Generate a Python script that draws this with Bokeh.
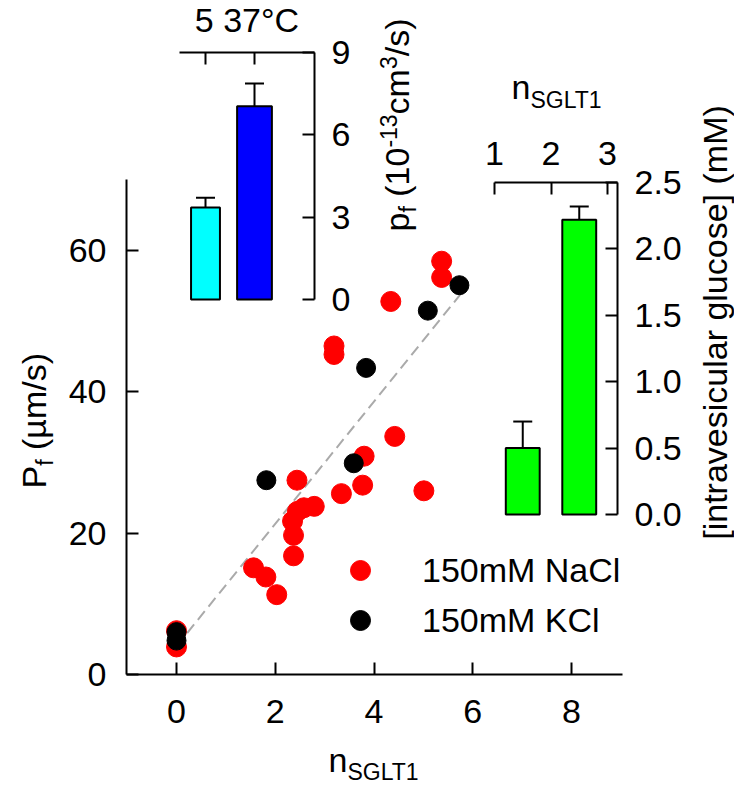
from math import pi
from bokeh.plotting import figure
from bokeh.models import (Range1d, LinearAxis, FixedTicker, Label, Legend, LegendItem,
                          ColumnDataSource, Whisker, TeeHead, PrintfTickFormatter)
from bokeh.embed import file_html
from bokeh.resources import INLINE

FONT = "Liberation Sans"
FS = "34px"

# ---------------- data ----------------
nacl_n = [5.37, 5.37, 4.34, 3.19, 3.19, 4.42, 3.80, 2.44, 3.34, 3.77, 5.01, 2.79,
          2.58, 2.45, 2.35, 2.37, 2.37, 1.56, 1.81, 2.03, 0.0, 0.0]
nacl_pf = [58.5, 56.2, 52.8, 46.5, 45.3, 33.7, 30.9, 27.5, 25.6, 26.8, 26.0, 23.8,
           23.6, 23.1, 21.7, 19.7, 16.8, 15.1, 13.8, 11.3, 3.9, 6.2]
kcl_n = [5.73, 5.09, 3.84, 1.82, 3.59, 0.0, 0.0]
kcl_pf = [55.1, 51.5, 43.4, 27.5, 29.9, 6.0, 4.8]
fit_n = [0.0, 5.75]
fit_pf = [4.0, 53.8]
main_xticks = [0, 2, 4, 6, 8]
main_yticks = [0, 20, 40, 60]

temp_pos = [1, 2]
temp_pf = [3.35, 7.04]
temp_err_top = [3.71, 7.87]
temp_width = [0.59, 0.71]
temp_colors = ["#00ffff", "#0000ff"]
temp_label = "5 37°C"
temp_yticks = [0, 3, 6, 9]

sglt_pos = [1.5, 2.5]
glucose = [0.50, 2.22]
glucose_err_top = [0.70, 2.32]
sglt_ticks = [1, 2, 3]
glc_ticks = [0.0, 0.5, 1.0, 1.5, 2.0, 2.5]

# ---------------- layout helpers ----------------
W, H = 734, 785


def xrange_from(px0, v0, ppu):
    return Range1d(v0 - px0 / ppu, v0 + (W - px0) / ppu)


def yrange_from(py0, v0, ppu):
    return Range1d(v0 - (H - py0) / ppu, v0 + py0 / ppu)


p = figure(width=W, height=H,
           x_range=xrange_from(176, 0, 49.375), y_range=yrange_from(674, 0, 7.065),
           output_backend="svg", toolbar_location=None, title=None,
           min_border_left=0, min_border_right=0, min_border_top=0, min_border_bottom=0)
p.extra_x_ranges = {"in1": xrange_from(205, 1, 49.0), "in2": xrange_from(494, 1, 56.5),
                    "pxx": Range1d(0, W)}
p.extra_y_ranges = {"pf": yrange_from(299, 0, 27.444), "glc": yrange_from(514, 0, 132.8),
                    "pxy": Range1d(H, 0)}
p.outline_line_color = None
p.xgrid.visible = False
p.ygrid.visible = False
p.background_fill_color = "white"
p.border_fill_color = "white"


def style_axis(ax, standoff=17):
    ax.axis_line_width = 2
    ax.axis_line_color = "black"
    ax.major_tick_line_width = 2
    ax.major_tick_line_color = "black"
    ax.major_tick_in = 12
    ax.major_tick_out = 0
    ax.minor_tick_line_color = None
    ax.major_label_text_font = FONT
    ax.major_label_text_font_size = FS
    ax.major_label_text_color = "black"
    ax.major_label_standoff = standoff
    ax.axis_label_text_font = FONT
    ax.axis_label_text_font_size = FS
    ax.axis_label_text_font_style = "normal"
    ax.axis_label_text_color = "black"


main_left = (126 - 176) / 49.375
xa = p.xaxis[0]
style_axis(xa, 25)
xa.ticker = FixedTicker(ticks=main_xticks)
xa.bounds = (main_left, (622 - 176) / 49.375)
xa.fixed_location = 0
ya = p.yaxis[0]
style_axis(ya, 20)
ya.ticker = FixedTicker(ticks=main_yticks)
ya.bounds = (0, 70)
ya.fixed_location = main_left

# ---------------- main scatter ----------------
p.line(fit_n, fit_pf, line_color="#aaaaaa", line_width=2, line_dash="11 6")
r_na = p.scatter(nacl_n, nacl_pf, size=20, fill_color="#ff0000", line_color="#ff0000")
r_k = p.scatter(kcl_n, kcl_pf, size=19, fill_color="black", line_color="black")

legend = Legend(items=[LegendItem(label="150mM NaCl", renderers=[r_na]),
                       LegendItem(label="150mM KCl", renderers=[r_k])],
                location=(335, 140), glyph_width=50, glyph_height=50, spacing=-5,
                padding=0, margin=0, label_standoff=37, border_line_color=None,
                background_fill_alpha=0, label_text_font=FONT, label_text_font_size=FS,
                label_text_color="black")
p.add_layout(legend)

# ---------------- inset 1: temperature ----------------
p.vbar(x=temp_pos, top=temp_pf, bottom=0, width=temp_width, fill_color=temp_colors,
       line_color="black", line_width=2, x_range_name="in1", y_range_name="pf")
src1 = ColumnDataSource(dict(x=temp_pos, lower=temp_pf, upper=temp_err_top))
p.add_layout(Whisker(source=src1, base="x", lower="lower", upper="upper", dimension="height",
                     line_width=2, line_color="black", lower_head=None,
                     upper_head=TeeHead(size=19, line_width=2, line_color="black"),
                     x_range_name="in1", y_range_name="pf"))
ax1r = LinearAxis(x_range_name="in1", y_range_name="pf", fixed_location=1 + (314 - 205) / 49.0,
                  bounds=(0, 9), ticker=FixedTicker(ticks=temp_yticks))
style_axis(ax1r, 17)
p.add_layout(ax1r, "right")
ax1t = LinearAxis(x_range_name="in1", y_range_name="pf", fixed_location=9,
                  bounds=(1 + (179 - 205) / 49.0, 1 + (314 - 205) / 49.0),
                  ticker=FixedTicker(ticks=temp_pos), axis_label=temp_label)
style_axis(ax1t, 0)
ax1t.major_label_text_font_size = "1px"
ax1t.major_label_text_color = None
ax1t.axis_label_standoff = 14
p.add_layout(ax1t, "above")

# ---------------- inset 2: glucose ----------------
p.vbar(x=sglt_pos, top=glucose, bottom=0, width=0.6, fill_color="#00ff00",
       line_color="black", line_width=2, x_range_name="in2", y_range_name="glc")
src2 = ColumnDataSource(dict(x=sglt_pos, lower=glucose, upper=glucose_err_top))
p.add_layout(Whisker(source=src2, base="x", lower="lower", upper="upper", dimension="height",
                     line_width=2, line_color="black", lower_head=None,
                     upper_head=TeeHead(size=19, line_width=2, line_color="black"),
                     x_range_name="in2", y_range_name="glc"))
ax2r = LinearAxis(x_range_name="in2", y_range_name="glc", fixed_location=1 + (617 - 494) / 56.5,
                  bounds=(0, 2.5), ticker=FixedTicker(ticks=glc_ticks),
                  formatter=PrintfTickFormatter(format="%.1f"))
style_axis(ax2r, 17)
p.add_layout(ax2r, "right")
ax2t = LinearAxis(x_range_name="in2", y_range_name="glc", fixed_location=2.5,
                  bounds=(1, 1 + (617 - 494) / 56.5), ticker=FixedTicker(ticks=sglt_ticks))
style_axis(ax2t, 18)
p.add_layout(ax2t, "above")

# ---------------- composed text labels (pixel coordinates) ----------------
AW = {"P": .667, "p": .556, "f": .278, " ": .278, "(": .333, ")": .333, "µ": .576,
      "m": .833, "/": .278, "s": .5, "0": .556, "1": .556, "3": .556, "-": .333,
      "c": .5, "n": .556, "S": .667, "G": .778, "L": .556, "T": .611}
MID = 0.3465  # distance of the text-box middle above the baseline, in em


def tw(s, size):
    return sum(AW[c] for c in s) * size


def add_text(x, y, text, size, angle=0.0, align="left"):
    p.add_layout(Label(x=x, y=y, text=text, angle=angle, text_align=align,
                       text_baseline="middle", text_font=FONT,
                       text_font_size=f"{size}px", text_color="black",
                       x_range_name="pxx", y_range_name="pxy"))


def rotated(xbase, ystart, pieces):
    """Text reading bottom-to-top; xbase is the baseline x position."""
    y = ystart
    for text, size, shift in pieces:
        lead = len(text) - len(text.lstrip(" "))
        y -= tw(" " * lead, size)
        body = text.lstrip(" ")
        add_text(xbase + shift - MID * size, y, body, size, angle=pi / 2)
        y -= tw(body, size)


def horizontal(xstart, ybase, pieces):
    x = xstart
    for text, size, shift in pieces:
        add_text(x, ybase + shift - MID * size, text, size)
        x += tw(text, size)


# main y label: P_f (µm/s)
rotated(45, 488, [("P", 34, 0), ("f", 23, 7), (" (µm/s)", 34, 0)])
# inset 1 y label: p_f (10^-13 cm^3/s)
rotated(408, 231, [("p", 34, 0), ("f", 23, 7), (" (10", 34, 0), ("-13", 23, -12),
                   ("cm", 34, 0), ("3", 23, -12), ("/s)", 34, 0)])
# inset 2 y label
add_text(726 - MID * 34, 322, "[intravesicular glucose] (mM)", 34, angle=pi / 2,
         align="center")
# main x label: n_SGLT1
horizontal(328, 771, [("n", 34, 0), ("SGLT1", 23, 8)])
# inset 2 x label
horizontal(511, 98, [("n", 34, 0), ("SGLT1", 23, 9)])

open("out.html", "w").write(file_html(p, INLINE))
